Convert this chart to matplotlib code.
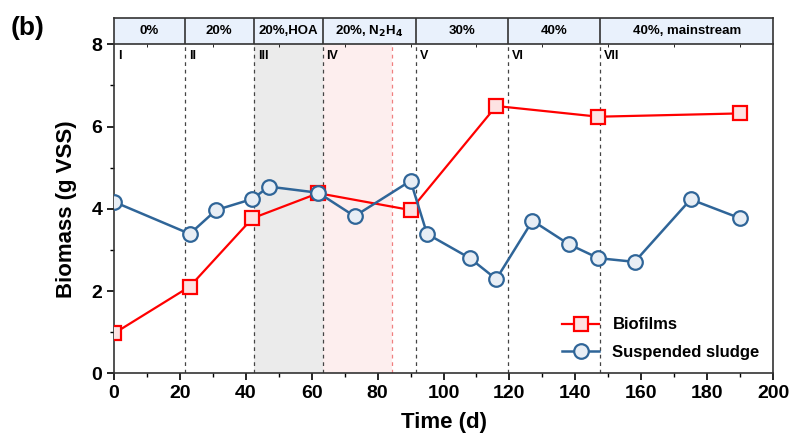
import matplotlib
matplotlib.use('Agg')
import matplotlib.pyplot as plt
from matplotlib.ticker import MultipleLocator

plt.rcParams['font.family'] = ['Liberation Sans', 'DejaVu Sans']
plt.rcParams['font.weight'] = 'bold'

# biofilm data
bio_day = [0, 23, 42, 62, 90, 116, 147, 190]
bio_mass = [0.97, 2.11, 3.77, 4.38, 3.97, 6.50, 6.24, 6.32]

# suspended sludge data
ss_day = [0, 23, 31, 42, 47, 62, 73, 90, 95, 108, 116, 127, 138, 147, 158, 175, 190]
ss_mass = [4.17, 3.39, 3.97, 4.24, 4.54, 4.39, 3.82, 4.68, 3.39, 2.80, 2.29,
           3.71, 3.14, 2.80, 2.71, 4.23, 3.77]

# phase boundaries and labels
phase_edges = [0, 21.5, 42.4, 63.3, 91.7, 119.7, 147.6, 200]
phase_names = ['I', 'II', 'III', 'IV', 'V', 'VI', 'VII']
phase_heads = ['0%', '20%', '20%,HOA', '20%, N$_2$H$_4$', '30%', '40%', '40%, mainstream']
hoa_span = (42.4, 63.3)
n2h4_span = (63.3, 84.4)

fig = plt.figure(figsize=(7.94, 4.38), dpi=100)
ax = fig.add_axes([0.1436, 0.1477, 0.830, 0.7511])
hx = fig.add_axes([0.1436, 0.8989, 0.830, 0.0594], sharex=ax)

# shaded phases
ax.axvspan(*hoa_span, color='#ebebeb', zorder=0, lw=0)
ax.axvspan(*n2h4_span, color='#fdeeee', zorder=0, lw=0)
for e in phase_edges[1:-1]:
    ax.axvline(e, color='#444444', ls=(0, (3, 3)), lw=0.9, zorder=1)
ax.axvline(n2h4_span[1], color='#f08080', ls=(0, (3, 3)), lw=0.9, zorder=1)

for e, name in zip(phase_edges[:-1], phase_names):
    ax.text(e + 1.2, 7.72, name, fontsize=9, fontweight='bold', va='center', ha='left')

ax.plot(bio_day, bio_mass, color='#ff0000', lw=1.6, marker='s', ms=10,
        mfc='#fde3e3', mec='#ff0000', mew=1.6, label='Biofilms', zorder=3)
ax.plot(ss_day, ss_mass, color='#2f6598', lw=1.8, marker='o', ms=10.5,
        mfc='#e8eef5', mec='#2f6598', mew=1.6, label='Suspended sludge', zorder=3)

ax.set_xlim(0, 200)
ax.set_ylim(0, 8)
ax.xaxis.set_major_locator(MultipleLocator(20))
ax.xaxis.set_minor_locator(MultipleLocator(10))
ax.yaxis.set_major_locator(MultipleLocator(2))
ax.yaxis.set_minor_locator(MultipleLocator(1))
ax.tick_params(which='both', direction='out', top=False, right=False)
ax.tick_params(which='major', length=5, width=1.2, labelsize=14)
ax.tick_params(which='minor', length=3, width=1)
for lab in ax.get_xticklabels() + ax.get_yticklabels():
    lab.set_fontweight('bold')
for s in ax.spines.values():
    s.set_linewidth(1.2)
    s.set_color('#333333')
ax.spines['top'].set_visible(False)

ax.set_xlabel('Time (d)', fontsize=16, fontweight='bold', labelpad=7)
ax.set_ylabel('Biomass (g VSS)', fontsize=16, fontweight='bold', labelpad=10)

leg = ax.legend(loc='lower right', bbox_to_anchor=(1.0, 0.0), frameon=False,
                fontsize=12, handlelength=2.2, borderaxespad=0.4, labelspacing=0.75)
for t in leg.get_texts():
    t.set_fontweight('bold')

# header band
hx.set_facecolor('#e9f1fc')
hx.set_ylim(0, 1)
for s in hx.spines.values():
    s.set_linewidth(1.2)
    s.set_color('#333333')
hx.tick_params(left=False, bottom=False, labelleft=False, labelbottom=False)
for e in phase_edges[1:-1]:
    hx.axvline(e, color='#333333', lw=1.2)
for i, head in enumerate(phase_heads):
    mid = (phase_edges[i] + phase_edges[i + 1]) / 2
    hx.text(mid, 0.5, head, fontsize=9.5, fontweight='bold', ha='center', va='center')

fig.text(0.013, 0.935, '(b)', fontsize=19, fontweight='bold', va='center')

fig.savefig('out.png', dpi=100)
